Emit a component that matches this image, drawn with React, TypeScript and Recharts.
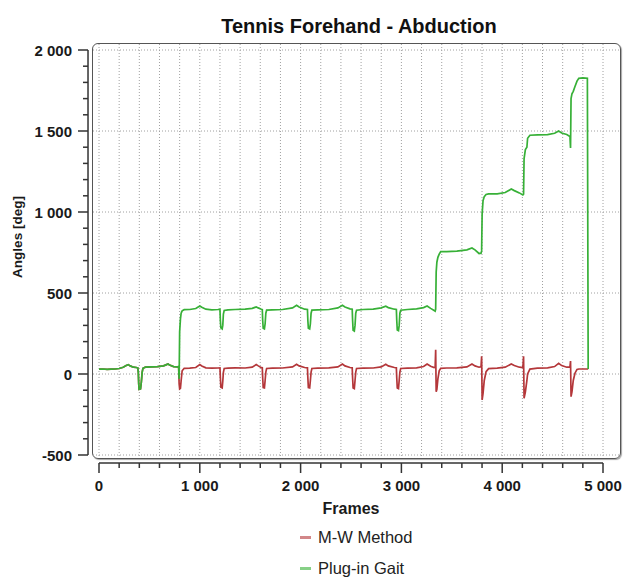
import React from 'react';
import { LineChart, Line, XAxis, YAxis, CartesianGrid, ReferenceLine, Legend } from 'recharts';

// Frame numbers where the curves were sampled
const frames = [
  0, 40, 80, 120, 160, 200, 240, 270, 290, 310,
  340, 370, 385, 390, 394, 398, 412, 420, 428, 436,
  460, 520, 580, 640, 670, 685, 700, 740, 780, 790,
  795, 800, 808, 815, 825, 845, 900, 960, 1000, 1020,
  1060, 1120, 1180, 1200, 1204, 1209, 1222, 1228, 1234, 1242,
  1280, 1350, 1450, 1520, 1560, 1580, 1610, 1620, 1624, 1629,
  1641, 1648, 1655, 1663, 1720, 1820, 1920, 1960, 1985, 2040,
  2068, 2072, 2077, 2090, 2097, 2104, 2112, 2170, 2280, 2370,
  2415, 2440, 2490, 2512, 2516, 2521, 2533, 2540, 2547, 2555,
  2620, 2720, 2800, 2845, 2870, 2930, 2950, 2954, 2959, 2971,
  2978, 2985, 2993, 3060, 3150, 3220, 3255, 3290, 3325, 3335,
  3340, 3345, 3352, 3362, 3375, 3390, 3450, 3550, 3650, 3700,
  3730, 3770, 3790, 3796, 3801, 3810, 3822, 3840, 3865, 3950,
  4030, 4090, 4120, 4170, 4205, 4212, 4217, 4230, 4245, 4252,
  4275, 4350, 4450, 4520, 4560, 4590, 4640, 4672, 4678, 4683,
  4692, 4705, 4722, 4742, 4760, 4800, 4845, 4853,
];

// M-W Method (deg)
const mwMethod = [
  30, 31, 29, 30, 31, 34, 42, 52, 58, 50,
  42, 40, 38, 10, -60, -95, -92, -50, 10, 35,
  42, 44, 46, 50, 58, 62, 55, 46, 44, 46,
  -60, -92, -88, -40, 20, 35, 36, 40, 58, 50,
  38, 36, 37, 38, -20, -82, -86, -45, 10, 34,
  36, 38, 37, 42, 58, 50, 39, 38, -25, -84,
  -86, -40, 12, 34, 36, 37, 44, 60, 50, 40,
  38, -25, -84, -86, -40, 12, 34, 36, 38, 44,
  62, 50, 40, 38, -25, -86, -90, -40, 12, 34,
  36, 37, 44, 60, 50, 40, 38, -25, -86, -90,
  -40, 12, 34, 36, 38, 46, 62, 48, 40, 42,
  150, -110, -95, -30, 20, 35, 37, 38, 44, 62,
  50, 42, 45, 110, -160, -120, -40, 15, 33, 36,
  42, 62, 52, 42, 40, 110, -150, -110, -40, 0,
  30, 36, 38, 46, 66, 52, 42, 44, 80, -140,
  -110, -40, 5, 28, 31, 31, 31, 31,
];

// Plug-in Gait (deg)
const plugInGait = [
  30, 31, 29, 30, 31, 34, 42, 52, 58, 50,
  42, 40, 38, 10, -60, -95, -92, -50, 10, 35,
  42, 44, 46, 50, 58, 62, 55, 46, 44, 46,
  -30, 260, 340, 375, 390, 397, 398, 404, 420, 412,
  400, 396, 398, 400, 330, 285, 278, 300, 370, 392,
  396, 398, 400, 405, 414, 408, 400, 398, 330, 282,
  278, 310, 375, 394, 396, 398, 408, 424, 414, 400,
  398, 330, 282, 278, 310, 375, 394, 396, 398, 408,
  424, 414, 402, 400, 330, 270, 265, 300, 375, 394,
  398, 400, 408, 418, 410, 400, 398, 330, 272, 268,
  300, 375, 394, 398, 402, 410, 420, 405, 392, 388,
  400, 630, 690, 720, 740, 755, 756, 758, 766, 778,
  766, 744, 746, 760, 990, 1070, 1095, 1108, 1112, 1112,
  1120, 1142, 1132, 1118, 1105, 1110, 1330, 1385, 1400, 1455,
  1474, 1476, 1478, 1486, 1500, 1488, 1478, 1466, 1395, 1700,
  1730, 1745, 1775, 1808, 1825, 1828, 1826, 31,
];

const xTicks = [
  0, 200, 400, 600, 800, 1000, 1200, 1400, 1600, 1800, 2000, 2200, 2400,
  2600, 2800, 3000, 3200, 3400, 3600, 3800, 4000, 4200, 4400, 4600, 4800, 5000,
];
const yTicks = [
  -500, -400, -300, -200, -100, 0, 100, 200, 300, 400, 500, 600, 700, 800, 900,
  1000, 1100, 1200, 1300, 1400, 1500, 1600, 1700, 1800, 1900, 2000,
];
const yGridValues = [-500, 0, 500, 1000, 1500, 2000];
const seriesNames = ['M-W Method', 'Plug-in Gait'];

const data = frames.map((f, i) => ({ frame: f, mw: mwMethod[i], pig: plugInGait[i] }));

const RED = '#b4373a';
const GREEN = '#37b037';
const AXIS = '#333';
const SANS = "'Liberation Sans', Arial, sans-serif";

const fmt = (v: number) => {
  const s = String(Math.abs(v)).replace(/\B(?=(\d{3})+(?!\d))/g, ' ');
  return v < 0 ? '-' + s : s;
};

const XTick = (props: any) => {
  const { x, y, payload } = props;
  const v = payload.value as number;
  const major = v % 1000 === 0;
  const y0 = y + 5;
  return (
    <g>
      <line x1={x} x2={x} y1={y0} y2={y0 + (major ? 10 : 5)} stroke={AXIS} strokeWidth={1.5} />
      {major && (
        <text x={x} y={y0 + 28} textAnchor="middle" fontFamily={SANS} fontSize={15} fontWeight="bold" fill="#1a1a1a">
          {fmt(v)}
        </text>
      )}
    </g>
  );
};

const YTick = (props: any) => {
  const { x, y, payload } = props;
  const v = payload.value as number;
  const major = v % 500 === 0;
  const x0 = x - 5;
  return (
    <g>
      <line x1={x0} x2={x0 - (major ? 10 : 5)} y1={y} y2={y} stroke={AXIS} strokeWidth={1.5} />
      {major && (
        <text x={x0 - 16} y={y + 5.5} textAnchor="end" fontFamily={SANS} fontSize={15} fontWeight="bold" fill="#1a1a1a">
          {fmt(v)}
        </text>
      )}
    </g>
  );
};

const framesLabel = () => (
  <text x={351} y={514} textAnchor="middle" fontFamily={SANS} fontSize={16} fontWeight="bold" fill="#1a1a1a">
    Frames
  </text>
);

const anglesLabel = () => (
  <text transform="rotate(-90)" x={-237} y={22} textAnchor="middle" fontFamily={SANS} fontSize={13.5} fontWeight="bold" fill="#1a1a1a">
    Angles [deg]
  </text>
);

const LegendContent = (props: any) => {
  const payload = props.payload || [];
  return (
    <div style={{ fontFamily: SANS, fontSize: 16.5, color: '#222' }}>
      {payload.map((entry: any, i: number) => (
        <div
          key={i}
          style={{ height: 18, lineHeight: '18px', display: 'flex', alignItems: 'center', marginBottom: i === 0 ? 13 : 0, whiteSpace: 'nowrap' }}
        >
          <span style={{ display: 'inline-block', width: 11, height: 3, background: entry.color, opacity: 0.6, marginRight: 7 }} />
          <span>{entry.value}</span>
        </div>
      ))}
    </div>
  );
};

export default function App() {
  return (
    <div style={{ position: 'absolute', left: 0, top: 0, width: 632, height: 579, background: '#fff', overflow: 'hidden' }}>
      <div
        style={{
          position: 'absolute', left: 359, top: 16, transform: 'translateX(-50%)', whiteSpace: 'nowrap',
          fontFamily: SANS, fontSize: 20, lineHeight: '20px', fontWeight: 'bold', color: '#111',
        }}
      >
        Tennis Forehand - Abduction
      </div>
      <div
        style={{
          position: 'absolute', left: 92, top: 43, width: 529, height: 416, boxSizing: 'border-box',
          border: '1.5px solid #555', borderRadius: 6, boxShadow: '1px 1px 1px rgba(0,0,0,0.35)',
        }}
      />
      <LineChart width={632} height={579} data={data} margin={{ top: 44, right: 12, bottom: 51, left: 13 }}>
        <CartesianGrid stroke="#a0a0a0" strokeDasharray="1 2" horizontalValues={yGridValues} verticalValues={xTicks} />
        <XAxis
          dataKey="frame" type="number" domain={[0, 5000]} ticks={xTicks} interval={0}
          padding={{ left: 6, right: 17 }} height={70} axisLine={false} tickLine={false}
          tickSize={0} tickMargin={0} tick={XTick} label={framesLabel}
        />
        <YAxis
          type="number" domain={[-500, 2000]} ticks={yTicks} interval={0}
          padding={{ top: 6, bottom: 3 }} width={80} axisLine={false} tickLine={false}
          tickSize={0} tickMargin={0} tick={YTick} label={anglesLabel}
        />
        <ReferenceLine segment={[{ x: 0, y: -549 }, { x: 5000, y: -549 }]} ifOverflow="visible" stroke={AXIS} strokeWidth={1.5} />
        <ReferenceLine segment={[{ x: -109, y: -500 }, { x: -109, y: 2000 }]} ifOverflow="visible" stroke={AXIS} strokeWidth={1.5} />
        <Line type="linear" dataKey="mw" name={seriesNames[0]} stroke={RED} strokeWidth={1.7} dot={false} isAnimationActive={false} />
        <Line type="linear" dataKey="pig" name={seriesNames[1]} stroke={GREEN} strokeWidth={1.7} dot={false} isAnimationActive={false} />
        <Legend
          layout="vertical" verticalAlign="middle" align="center" content={LegendContent}
          wrapperStyle={{ left: 300, top: 528, width: 180, right: 'auto', bottom: 'auto' }}
        />
      </LineChart>
    </div>
  );
}
